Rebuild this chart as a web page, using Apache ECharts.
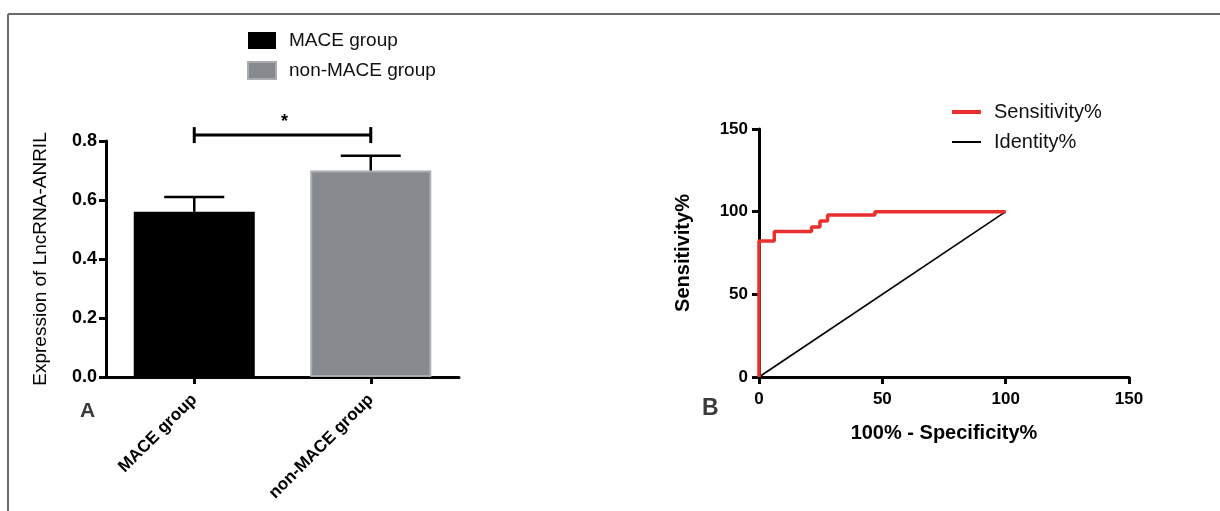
<!DOCTYPE html>
<html>
<head>
<meta charset="utf-8">
<script src="https://cdn.jsdelivr.net/npm/echarts@6/dist/echarts.min.js"></script>
<style>
  html, body { margin: 0; padding: 0; background: #fff; }
  #main { width: 1220px; height: 511px; }
</style>
</head>
<body>
<div id="main"></div>
<script>
// panel A: bar + error bars
var groups = ["MACE group", "non-MACE group"];
var means = [0.56, 0.70];
var errs = [0.05, 0.05];
var sigY = 0.82;

// panel B: ROC curve (corner points of the step curve)
var rocX = [0, 0, 6.2, 6.2, 21.3, 21.3, 24.7, 24.7, 27.8, 27.8, 47, 47, 100];
var rocY = [0, 82.3, 82.3, 88, 88, 90.8, 90.8, 94.4, 94.4, 98, 98, 100, 100];
var identX = [0, 100];
var identY = [0, 100];

var font = "Liberation Sans, Arial, sans-serif";

var chart = echarts.init(document.getElementById("main"));

var errData = means.map(function (m, i) { return [i, m, m + errs[i]]; });
var rocData = rocX.map(function (x, i) { return [x, rocY[i]]; });
var identData = identX.map(function (x, i) { return [x, identY[i]]; });

function axisBase(fs) {
  return {
    axisLine: { show: true, lineStyle: { color: "#000", width: 3 } },
    axisTick: { show: true, inside: false, length: 7, lineStyle: { color: "#000", width: 3 } },
    axisLabel: { color: "#000", fontWeight: "bold", fontSize: fs, fontFamily: font },
    splitLine: { show: false }
  };
}

var xA = axisBase(17);
xA.gridIndex = 0;
xA.type = "category";
xA.data = groups;
xA.axisTick.alignWithLabel = true;
xA.axisLabel.rotate = 45;
xA.axisLabel.margin = 20;

var yA = axisBase(18);
yA.gridIndex = 0;
yA.type = "value";
yA.min = 0;
yA.max = 0.8;
yA.interval = 0.2;
yA.axisLabel.margin = 9;
yA.axisLabel.formatter = function (v) { return v.toFixed(1); };
yA.name = "Expression of LncRNA-ANRIL";
yA.nameLocation = "middle";
yA.nameGap = 56;
yA.nameTextStyle = { color: "#000", fontSize: 19, fontFamily: font };

var xB = axisBase(17);
xB.gridIndex = 1;
xB.type = "value";
xB.min = 0;
xB.max = 150;
xB.interval = 50;
xB.axisLabel.margin = 14;
xB.name = "100% - Specificity%";
xB.nameLocation = "middle";
xB.nameGap = 46;
xB.nameTextStyle = { color: "#000", fontSize: 20, fontWeight: "bold", fontFamily: font };

var yB = axisBase(17);
yB.gridIndex = 1;
yB.type = "value";
yB.min = 0;
yB.max = 150;
yB.interval = 50;
yB.axisLabel.margin = 11;
yB.name = "Sensitivity%";
yB.nameLocation = "middle";
yB.nameGap = 66;
yB.nameTextStyle = { color: "#000", fontSize: 20, fontWeight: "bold", fontFamily: font };

chart.setOption({
  animation: false,
  backgroundColor: "#fff",
  grid: [
    { left: 106, top: 141, width: 353, height: 236 },
    { left: 759, top: 129, width: 370, height: 248 }
  ],
  legend: [
    {
      data: ["MACE group", "non-MACE group"],
      orient: "vertical",
      left: 247, top: 31, padding: 0,
      icon: "rect",
      itemWidth: 28, itemHeight: 17, itemGap: 11,
      textStyle: { color: "#111", fontSize: 19, fontFamily: font, padding: [0, 0, 0, 8] }
    },
    {
      data: ["Sensitivity%"],
      left: 952, top: 102, padding: 0,
      icon: "rect", itemWidth: 29, itemHeight: 4,
      textStyle: { color: "#111", fontSize: 20, fontFamily: font, padding: [0, 0, 0, 8] }
    },
    {
      data: ["Identity%"],
      left: 952, top: 132, padding: 0,
      icon: "rect", itemWidth: 29, itemHeight: 2,
      textStyle: { color: "#111", fontSize: 20, fontFamily: font, padding: [0, 0, 0, 8] }
    }
  ],
  xAxis: [xA, xB],
  yAxis: [yA, yB],
  graphic: [
    { type: "line", shape: { x1: 8, y1: 14, x2: 1220, y2: 14 }, style: { stroke: "#6b6b6b", lineWidth: 2 } },
    { type: "line", shape: { x1: 8, y1: 14, x2: 8, y2: 511 }, style: { stroke: "#6b6b6b", lineWidth: 2 } },
    { type: "text", left: 80, top: 401, style: { text: "A", fill: "#3a3a3a", font: "bold 21px " + font } },
    { type: "text", left: 702, top: 397, style: { text: "B", fill: "#3a3a3a", font: "bold 23px " + font } }
  ],
  series: [
    {
      name: "MACE group", type: "bar", xAxisIndex: 0, yAxisIndex: 0,
      barWidth: 121, barGap: "-100%",
      itemStyle: { color: "#000" },
      data: [means[0], "-"]
    },
    {
      name: "non-MACE group", type: "bar", xAxisIndex: 0, yAxisIndex: 0,
      barWidth: 121, barGap: "-100%",
      itemStyle: { color: "#86898d", borderColor: "#a9abae", borderWidth: 2 },
      data: ["-", means[1]]
    },
    {
      type: "custom", xAxisIndex: 0, yAxisIndex: 0, z: 5,
      data: errData,
      renderItem: function (params, api) {
        var p0 = api.coord([api.value(0), api.value(1)]);
        var p1 = api.coord([api.value(0), api.value(2)]);
        return {
          type: "group",
          children: [
            { type: "line", shape: { x1: p0[0], y1: p0[1], x2: p1[0], y2: p1[1] }, style: { stroke: "#000", lineWidth: 2.5 } },
            { type: "line", shape: { x1: p1[0] - 30, y1: p1[1], x2: p1[0] + 30, y2: p1[1] }, style: { stroke: "#000", lineWidth: 2.5 } }
          ]
        };
      }
    },
    {
      type: "custom", xAxisIndex: 0, yAxisIndex: 0, z: 5, clip: false,
      data: [[0, 1, sigY]],
      renderItem: function (params, api) {
        var a = api.coord([api.value(0), api.value(2)]);
        var b = api.coord([api.value(1), api.value(2)]);
        return {
          type: "group",
          children: [
            { type: "line", shape: { x1: a[0], y1: a[1], x2: b[0], y2: b[1] }, style: { stroke: "#000", lineWidth: 3 } },
            { type: "line", shape: { x1: a[0], y1: a[1] - 8, x2: a[0], y2: a[1] + 8 }, style: { stroke: "#000", lineWidth: 3 } },
            { type: "line", shape: { x1: b[0], y1: b[1] - 8, x2: b[0], y2: b[1] + 8 }, style: { stroke: "#000", lineWidth: 3 } },
            { type: "text", x: (a[0] + b[0]) / 2 + 2, y: a[1] - 4, style: { text: "*", fill: "#000", font: "bold 18px " + font, align: "center", verticalAlign: "bottom" } }
          ]
        };
      }
    },
    {
      name: "Identity%", type: "line", xAxisIndex: 1, yAxisIndex: 1,
      symbol: "none", lineStyle: { color: "#000", width: 1.6 },
      itemStyle: { color: "#000" },
      data: identData
    },
    {
      name: "Sensitivity%", type: "line", xAxisIndex: 1, yAxisIndex: 1,
      symbol: "none", lineStyle: { color: "#e8312f", width: 3.5 },
      itemStyle: { color: "#e8312f" },
      z: 3,
      data: rocData
    }
  ]
});
</script>
</body>
</html>
